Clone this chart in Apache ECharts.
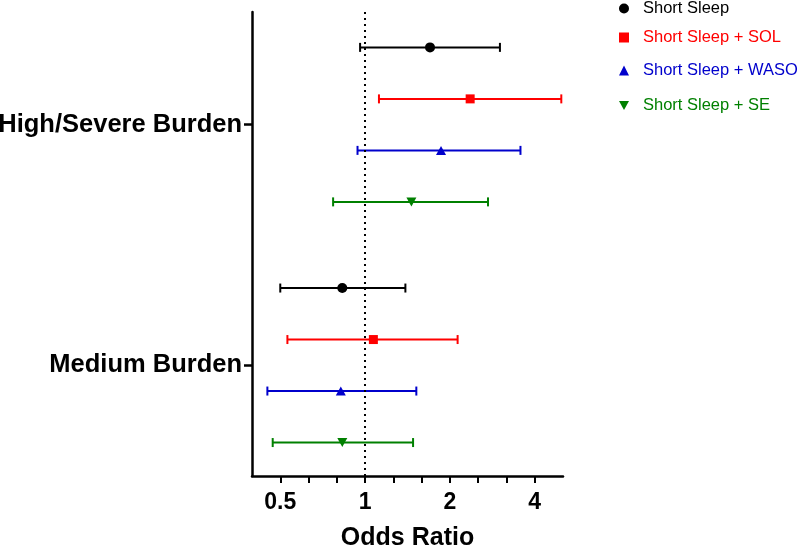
<!DOCTYPE html>
<html>
<head>
<meta charset="utf-8">
<script src="https://cdn.jsdelivr.net/npm/echarts@6/dist/echarts.min.js"></script>
<style>html,body{margin:0;padding:0;background:#fff;}#chart{width:800px;height:545px;}</style>
</head>
<body>
<div id="chart"></div>
<script>
// ---- data ----
const categories = ['High/Severe Burden', 'Medium Burden'];
const seriesNames = ['Short Sleep', 'Short Sleep + SOL', 'Short Sleep + WASO', 'Short Sleep + SE'];
// values per category: [High/Severe, Medium]
const orShort = [1.70, 0.83];
const loShort = [0.96, 0.50];
const hiShort = [3.01, 1.39];
const orSOL = [2.36, 1.07];
const loSOL = [1.12, 0.53];
const hiSOL = [4.97, 2.13];
const orWASO = [1.86, 0.82];
const loWASO = [0.94, 0.45];
const hiWASO = [3.56, 1.52];
const orSE = [1.46, 0.83];
const loSE = [0.77, 0.47];
const hiSE = [2.73, 1.48];
const xTickValues = [0.5, 1, 2, 4];
const xTickLabels = ['0.5', '1', '2', '4'];
const refValue = 1;

// ---- layout / style ----
const FONT = 'Liberation Sans, Arial, sans-serif';
const groupY = [2, 1];                       // axis position of each category
const groupYSorted = [1, 2];
const seriesOffset = [0.321, 0.107, -0.107, -0.321];
const colors = ['#000000', '#ff0000', '#0000cc', '#008000'];
const symbols = ['circle', 'rect', 'triangle', 'path://M0,0 L10,0 L5,9 Z'];
const symbolSizes = [10, 9, [10, 9], [10, 9]];
const legendTops = [0, 29, 62, 97];
const xMinExp = -4 / 3, xMaxExp = 7 / 3;
const minorTickExps = [];
for (let k = -3; k <= 6; k++) minorTickExps.push(k / 3);

const ors = [orShort, orSOL, orWASO, orSE];
const los = [loShort, loSOL, loWASO, loSE];
const his = [hiShort, hiSOL, hiWASO, hiSE];

const series = [];
seriesNames.forEach((name, s) => {
  series.push({
    name: name,
    type: 'scatter',
    xAxisIndex: 0, yAxisIndex: 0,
    symbol: symbols[s],
    symbolSize: symbolSizes[s],
    itemStyle: { color: colors[s], opacity: 1 },
    z: 5,
    data: categories.map((c, i) => [ors[s][i], groupY[i] + seriesOffset[s]])
  });
  series.push({
    name: name,
    type: 'custom',
    xAxisIndex: 0, yAxisIndex: 0,
    z: 3,
    encode: { x: [0, 1], y: 2 },
    data: categories.map((c, i) => [los[s][i], his[s][i], groupY[i] + seriesOffset[s]]),
    renderItem: function (params, api) {
      const y = api.value(2);
      const a = api.coord([api.value(0), y]);
      const b = api.coord([api.value(1), y]);
      const h = 4.5;
      const st = { stroke: colors[s], lineWidth: 2 };
      return {
        type: 'group',
        children: [
          { type: 'line', shape: { x1: a[0], y1: a[1], x2: b[0], y2: b[1] }, style: st },
          { type: 'line', shape: { x1: a[0], y1: a[1] - h, x2: a[0], y2: a[1] + h }, style: st },
          { type: 'line', shape: { x1: b[0], y1: b[1] - h, x2: b[0], y2: b[1] + h }, style: st }
        ]
      };
    }
  });
});
// reference line at OR = 1
series[0].markLine = {
  silent: true,
  symbol: ['none', 'none'],
  label: { show: false },
  lineStyle: { color: '#000', width: 2, type: [2, 4] },
  data: [{ xAxis: refValue }]
};

const legends = seriesNames.map((name, s) => ({
  data: [name],
  orient: 'vertical',
  left: 619,
  top: legendTops[s],
  padding: 0,
  itemWidth: 10,
  itemHeight: 10,
  selectedMode: false,
  textStyle: { color: colors[s], fontSize: 16.5, fontFamily: FONT, padding: [0, 0, 0, 9] }
}));

const chart = echarts.init(document.getElementById('chart'), null, { renderer: 'canvas' });
chart.setOption({
  animation: false,
  backgroundColor: '#fff',
  grid: { left: 252, right: 237, top: 12, bottom: 69, containLabel: false, outerBoundsMode: 'none' },
  legend: legends,
  xAxis: [
    {
      type: 'log', logBase: 2,
      min: Math.pow(2, xMinExp), max: Math.pow(2, xMaxExp),
      axisLine: { show: true, onZero: false, lineStyle: { color: '#000', width: 2.5 } },
      axisTick: { show: false },
      splitLine: { show: false },
      minorTick: { show: false },
      axisLabel: {
        showMinLabel: false, showMaxLabel: false,
        margin: 15, color: '#000', fontSize: 23, fontWeight: 'bold', fontFamily: FONT,
        formatter: function (v) {
          const i = xTickValues.findIndex(t => Math.abs(t - v) < 1e-6);
          return i >= 0 ? xTickLabels[i] : '';
        }
      },
      name: 'Odds Ratio', nameLocation: 'middle', nameGap: 50,
      nameTextStyle: { color: '#000', fontSize: 25, fontWeight: 'bold', fontFamily: FONT }
    },
    {
      type: 'value', position: 'bottom',
      min: xMinExp, max: xMaxExp, interval: 1 / 3,
      axisLine: { show: false, onZero: false },
      axisLabel: { show: false },
      splitLine: { show: false },
      axisTick: { show: true, length: 7, customValues: minorTickExps, lineStyle: { color: '#000', width: 2 } }
    }
  ],
  yAxis: {
    type: 'value', min: 0.54, max: 2.468,
    axisLine: { show: true, onZero: false, lineStyle: { color: '#000', width: 2.5 } },
    axisTick: { show: true, length: 8, customValues: groupYSorted, lineStyle: { color: '#000', width: 2.5 } },
    splitLine: { show: false },
    axisLabel: {
      show: true,
      customValues: groupYSorted,
      margin: 10, color: '#000', fontSize: 25.5, fontWeight: 'bold', fontFamily: FONT,
      formatter: function (v) {
        const i = groupY.findIndex(g => Math.abs(g - v) < 1e-6);
        return i >= 0 ? categories[i] : '';
      }
    }
  },
  series: series
});
</script>
</body>
</html>
